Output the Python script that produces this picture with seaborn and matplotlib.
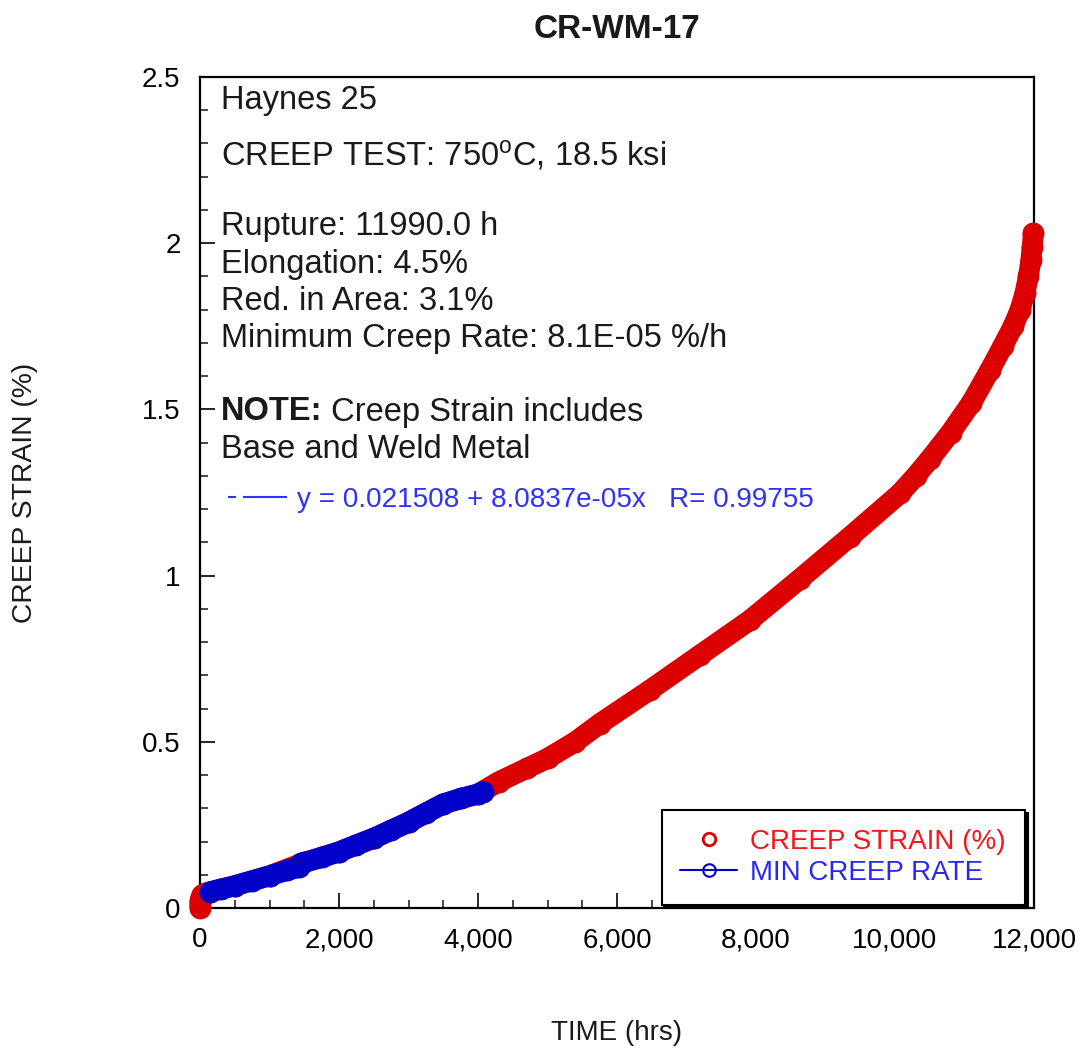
import matplotlib
matplotlib.use("Agg")
import matplotlib.pyplot as plt
import seaborn as sns
import pandas as pd
from matplotlib.lines import Line2D
from matplotlib.ticker import MultipleLocator, FuncFormatter

# ---- data ----
strain_time = [0, 0, 0, 10, 30, 80, 150, 500, 1000, 1500, 2000, 2500, 3000, 3500,
               4000, 4300, 4700, 5000, 5400, 5755, 6475, 7194, 7914, 8633, 9353,
               10072, 10300, 10500, 10800, 11100, 11370, 11550, 11700, 11800,
               11870, 11920, 11955, 11975, 11990]
strain_val = [0.0, 0.01, 0.02, 0.03, 0.04, 0.045, 0.049, 0.067, 0.097, 0.137, 0.169,
              0.21, 0.258, 0.313, 0.343, 0.38, 0.42, 0.45, 0.50, 0.555, 0.656,
              0.761, 0.866, 0.99, 1.117, 1.247, 1.30, 1.35, 1.43, 1.52, 1.62, 1.69,
              1.75, 1.80, 1.85, 1.90, 1.95, 1.99, 2.03]

mcr_time = [150, 300, 500, 750, 1000, 1250, 1420, 1450, 1750, 2000, 2250, 2500,
            2750, 3000, 3250, 3500, 3750, 4000, 4070]
mcr_val = [0.049, 0.057, 0.067, 0.082, 0.097, 0.113, 0.122, 0.134, 0.152, 0.169,
           0.19, 0.21, 0.234, 0.258, 0.286, 0.313, 0.33, 0.343, 0.35]

x_ticks = [0, 2000, 4000, 6000, 8000, 10000, 12000]
y_ticks = [0, 0.5, 1, 1.5, 2, 2.5]

title = "CR-WM-17"
info_lines = [
    "Haynes 25",
    "CREEP TEST: 750$^\\mathrm{o}$C, 18.5 ksi",
    "Rupture: 11990.0 h",
    "Elongation: 4.5%",
    "Red. in Area: 3.1%",
    "Minimum Creep Rate: 8.1E-05 %/h",
    None,
    "Base and Weld Metal",
]
note_bold = "NOTE:"
note_rest = " Creep Strain includes"
fit_label = "y = 0.021508 + 8.0837e-05x   R= 0.99755"

# ---- style ----
sns.set_theme(style="white")
plt.rcParams["font.family"] = ["Liberation Sans", "DejaVu Sans"]
plt.rcParams["mathtext.fontset"] = "custom"
plt.rcParams["mathtext.rm"] = "Liberation Sans"
plt.rcParams["mathtext.bf"] = "Liberation Sans:bold"
plt.rcParams["mathtext.it"] = "Liberation Sans:italic"

RED = "#dc0000"
BLUE = "#0000c8"
TXT = "#1a1a1a"

fig = plt.figure(figsize=(10.81, 10.57), dpi=100)
ax = fig.add_axes([200 / 1081, 1 - 908 / 1057, 834 / 1081, 831 / 1057])

df_s = pd.DataFrame({"t": strain_time, "s": strain_val})
df_m = pd.DataFrame({"t": mcr_time, "s": mcr_val})

line_kw = dict(linewidth=15, marker="o", markersize=15, sort=False, estimator=None,
               clip_on=False, solid_joinstyle="round", solid_capstyle="round")
sns.lineplot(data=df_s, x="t", y="s", ax=ax, color=RED, markeredgecolor=RED,
             markerfacecolor=RED, zorder=3, **line_kw)
sns.lineplot(data=df_m, x="t", y="s", ax=ax, color=BLUE, markeredgecolor=BLUE,
             markerfacecolor=BLUE, zorder=4, **line_kw)

ax.set_xlim(0, 12000)
ax.set_ylim(0, 2.5)
ax.set_xticks(x_ticks)
ax.set_yticks(y_ticks)
ax.xaxis.set_minor_locator(MultipleLocator(500))
ax.yaxis.set_minor_locator(MultipleLocator(0.1))
ax.xaxis.set_major_formatter(FuncFormatter(lambda v, p: f"{int(v):,}"))
ax.yaxis.set_major_formatter(FuncFormatter(lambda v, p: f"{v:g}"))
ax.tick_params(which="major", direction="in", length=11, width=1.2, labelsize=20,
               colors="black", pad=14, bottom=True, left=True)
ax.tick_params(which="minor", direction="in", length=6, width=1.2,
               bottom=True, left=True)
for sp in ax.spines.values():
    sp.set_visible(True)
    sp.set_color("black")
    sp.set_linewidth(1.6)

ax.set_xlabel("TIME (hrs)", fontsize=20, color=TXT, labelpad=48)
ax.set_ylabel("CREEP STRAIN (%)", fontsize=20.3, color=TXT, labelpad=75)
ax.set_title(title, fontsize=24, fontweight="bold", color=TXT, pad=28)

# info text block
y_pos = [100, 155, 227, 265, 301, 338, 412, 449]
x0 = 21 / 834
for line, yp in zip(info_lines, y_pos):
    if line is None:
        t_note = ax.text(x0, (908 - yp) / 831, note_bold, transform=ax.transAxes,
                         fontsize=23.5, color=TXT, va="center", ha="left",
                         fontweight="bold")
        ax.annotate(note_rest, xy=(1, 0.5), xycoords=t_note, fontsize=23.5,
                    color=TXT, va="center", ha="left")
    else:
        ax.text(x0, (908 - yp) / 831, line, transform=ax.transAxes,
                fontsize=23.5, color=TXT, va="center", ha="left")

# fit legend (dashed line + equation)
fit_handle = Line2D([], [], color="#3030ff", linewidth=1.5,
                    dashes=[3.9, 3.3, 21.5, 60])
leg_fit = ax.legend([fit_handle], [fit_label], loc="center left",
                    bbox_to_anchor=(28 / 834, (908 - 500) / 831), frameon=False,
                    fontsize=20.1, handlelength=2.1, handletextpad=0.37,
                    borderaxespad=0.0, borderpad=0.0)
for t in leg_fit.get_texts():
    t.set_color("#3030ff")
ax.add_artist(leg_fit)

# main legend
h1 = Line2D([], [], color=RED, marker="o", markersize=9, markerfacecolor="none",
            markeredgewidth=2, linestyle="none")
h2 = Line2D([], [], color=BLUE, marker="o", markersize=9, markerfacecolor="none",
            markeredgewidth=1.5, linestyle="-", linewidth=1.5)
leg = ax.legend([h1, h2], ["CREEP STRAIN (%)", "MIN CREEP RATE"],
                loc="lower right", bbox_to_anchor=(1.0 - 9 / 834, 3 / 831),
                fontsize=20, frameon=True, fancybox=False,
                shadow={"color": "black", "alpha": 1},
                handlelength=2.05, handletextpad=0.47, labelspacing=0.19,
                borderpad=0.68, borderaxespad=0.0, framealpha=1)
leg.get_frame().set_edgecolor("black")
leg.get_frame().set_linewidth(1.5)
leg.get_texts()[0].set_color("#f01818")
leg.get_texts()[1].set_color("#2828f0")

fig.savefig("out.png", dpi=100)
